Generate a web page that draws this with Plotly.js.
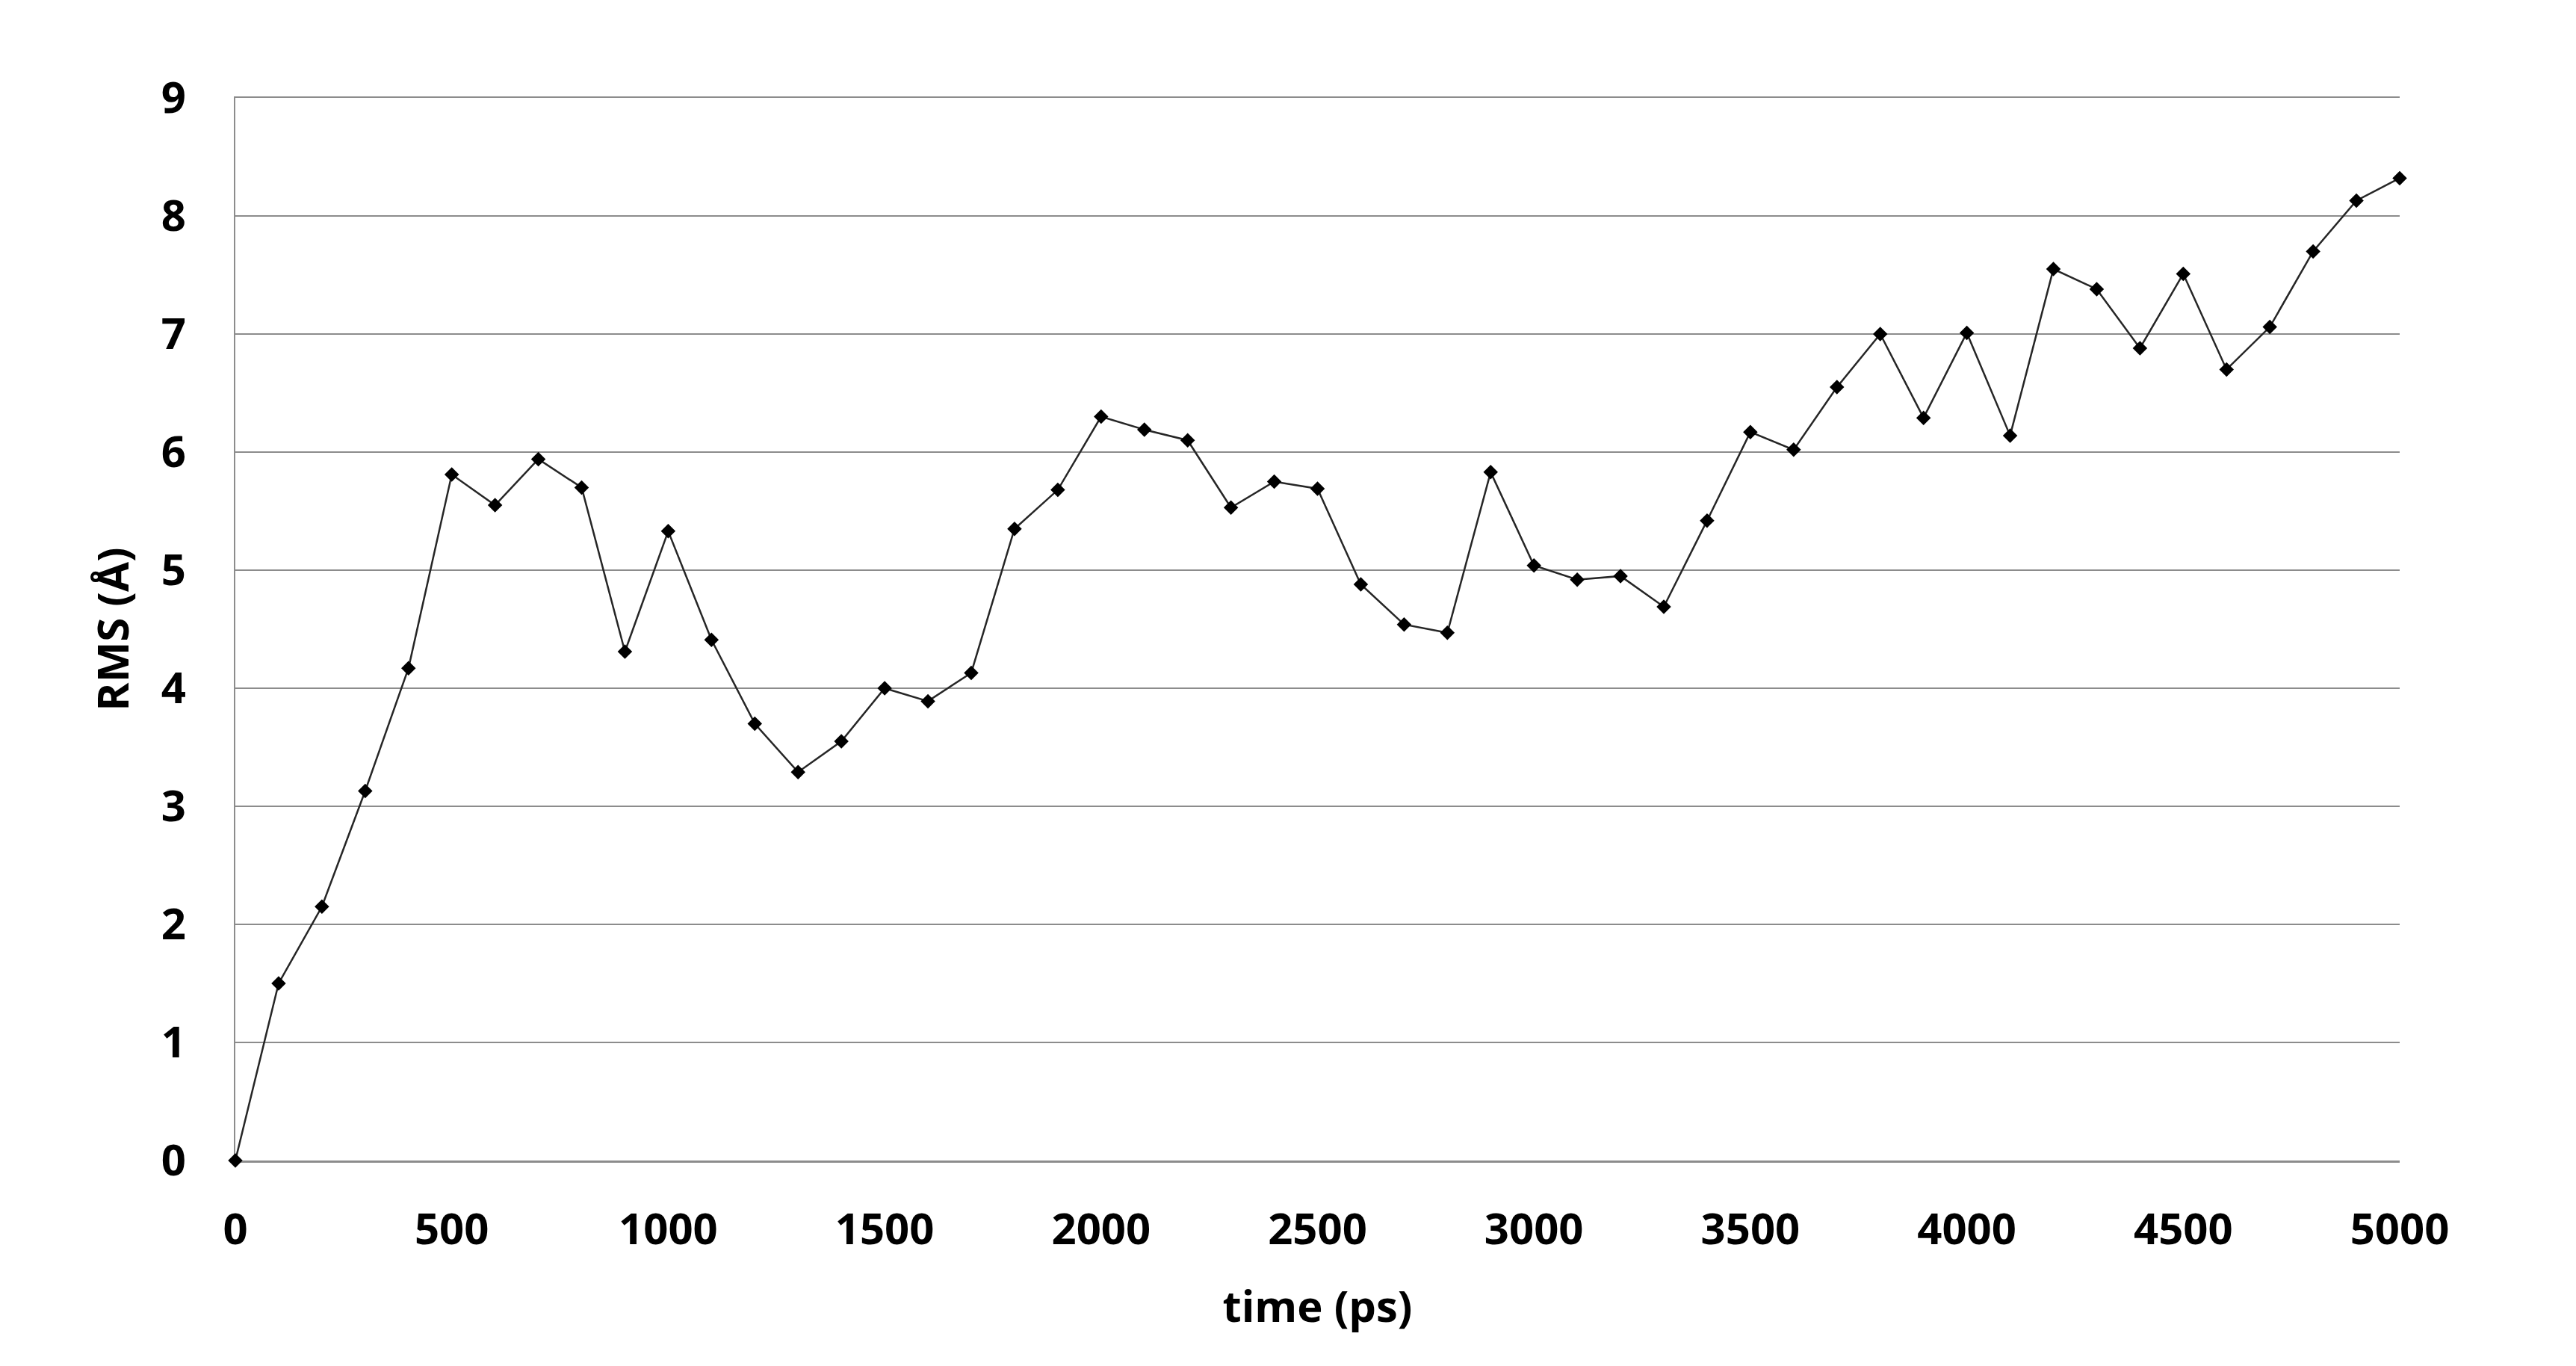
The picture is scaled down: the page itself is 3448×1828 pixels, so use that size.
<!DOCTYPE html>
<html>
<head>
<meta charset="utf-8">
<script src="https://cdn.plot.ly/plotly-3.0.1.min.js"></script>
<style>
  html, body { margin: 0; padding: 0; background: #ffffff; }
  #chart { width: 3448px; height: 1828px; }
</style>
</head>
<body>
<div id="chart"></div>
<script>
    // simulation time, ps
    const timePs = [
        0, 100, 200, 300, 400, 500, 600, 700, 800, 900,
        1000, 1100, 1200, 1300, 1400, 1500, 1600, 1700, 1800, 1900,
        2000, 2100, 2200, 2300, 2400, 2500, 2600, 2700, 2800, 2900,
        3000, 3100, 3200, 3300, 3400, 3500, 3600, 3700, 3800, 3900,
        4000, 4100, 4200, 4300, 4400, 4500, 4600, 4700, 4800, 4900,
        5000
    ];

    // RMS deviation, angstrom
    const rmsValues = [
        0.00, 1.50, 2.15, 3.13, 4.17, 5.81, 5.55, 5.94, 5.70, 4.31,
        5.33, 4.41, 3.70, 3.29, 3.55, 4.00, 3.89, 4.13, 5.35, 5.68,
        6.30, 6.19, 6.10, 5.53, 5.75, 5.69, 4.88, 4.54, 4.47, 5.83,
        5.04, 4.92, 4.95, 4.69, 5.42, 6.17, 6.02, 6.55, 7.00, 6.29,
        7.01, 6.14, 7.55, 7.38, 6.88, 7.51, 6.70, 7.06, 7.70, 8.13,
        8.32
    ];

    const xTickVals = [0, 500, 1000, 1500, 2000, 2500, 3000, 3500, 4000, 4500, 5000];
    const yTickVals = [0, 1, 2, 3, 4, 5, 6, 7, 8, 9];

    const gridGrey = '#8c8c8c';
    const labelFont = { family: 'Open Sans, sans-serif', size: 58, color: '#000000', weight: 'bold' };

    const data = [{
        type: 'scatter',
        mode: 'lines+markers',
        x: timePs,
        y: rmsValues,
        cliponaxis: false,
        line: { color: '#262626', width: 2.5 },
        marker: { symbol: 'diamond', size: 15, color: '#000000', line: { width: 0 } },
        hoverinfo: 'x+y',
    }];

    const layout = {
        width: 3448,
        height: 1828,
        paper_bgcolor: '#ffffff',
        plot_bgcolor: '#ffffff',
        showlegend: false,
        margin: { l: 315, r: 236, t: 131, b: 275 },
        xaxis: {
            range: [0, 5000],
            tickmode: 'array',
            tickvals: xTickVals,
            showgrid: false,
            zeroline: false,
            // mirrored line gives the top rule at 9 that plotly drops from the grid
            showline: true,
            mirror: true,
            linecolor: gridGrey,
            linewidth: 2.5,
            layer: 'below traces',
            ticks: '',
            ticklabelstandoff: 40,
            tickfont: labelFont,
            title: { text: 'time (ps)', font: labelFont, standoff: 48 },
        },
        yaxis: {
            range: [0, 9],
            tickmode: 'array',
            tickvals: yTickVals,
            showgrid: true,
            gridcolor: gridGrey,
            gridwidth: 2.5,
            zeroline: false,
            showline: true,
            linecolor: gridGrey,
            linewidth: 2.5,
            layer: 'below traces',
            ticks: '',
            ticklabelstandoff: 52,
            tickfont: labelFont,
            title: { text: 'RMS (Å)', font: labelFont, standoff: 25 },
        },
    };

    Plotly.newPlot('chart', data, layout, { staticPlot: true, displayModeBar: false });
</script>
</body>
</html>
